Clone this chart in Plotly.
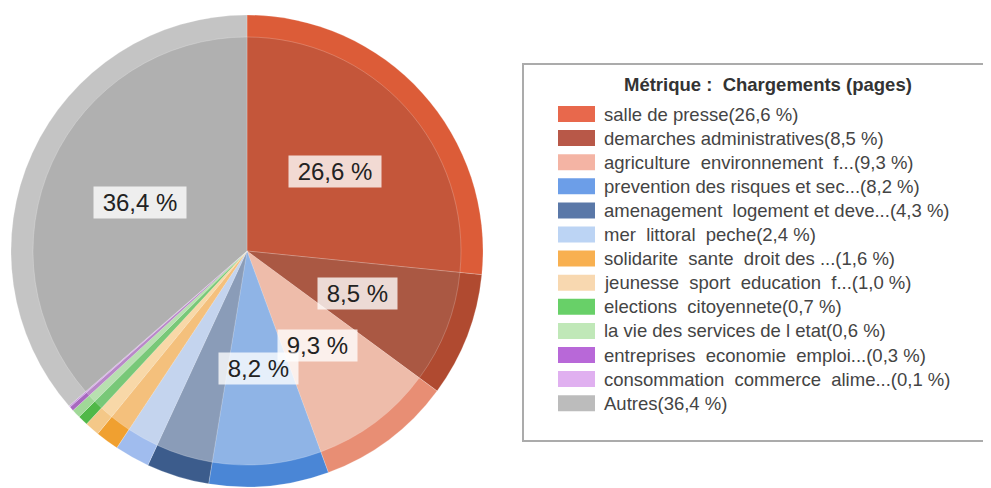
"""Pie chart of page loads by section, with a hand-drawn legend panel."""

import math

import plotly.graph_objects as go

# --- data -------------------------------------------------------------------
categories = [
    "salle de presse",
    "demarches administratives",
    "agriculture  environnement  f...",
    "prevention des risques et sec...",
    "amenagement  logement et deve...",
    "mer  littoral  peche",
    "solidarite  sante  droit des ...",
    "jeunesse  sport  education  f...",
    "elections  citoyennete",
    "la vie des services de l etat",
    "entreprises  economie  emploi...",
    "consommation  commerce  alime...",
    "Autres",
]
shares = [26.6, 8.5, 9.3, 8.2, 4.3, 2.4, 1.6, 1.0, 0.7, 0.6, 0.3, 0.1, 36.4]
legend_title = "Métrique :  Chargements (pages)"

# colours: outer rim, slice body, legend swatch
rim_colors = [
    "#dc5c38", "#b04a30", "#e88e74", "#4a86d6", "#3c5c8c", "#a0bcee",
    "#f0a030", "#f4c888", "#50b848", "#a0d898", "#a868c0", "#c898e0", "#c4c4c4",
]
body_colors = [
    "#c4563a", "#aa5843", "#eebcaa", "#8fb4e6", "#8a9cb8", "#c4d4ee",
    "#f4c07c", "#f8d8a8", "#78c878", "#b8e0b0", "#b888c8", "#d8b0e8", "#b0b0b0",
]
swatch_colors = [
    "#e8684c", "#b85848", "#f4b4a4", "#6c9ee8", "#5a78a8", "#bcd4f4",
    "#f8b050", "#f8d8b0", "#68d068", "#c0e8b8", "#b868d8", "#e0b0f0", "#bcbcbc",
]

# the page body has an 8px margin, so work in window pixels and shift
OFF = 8
W, H = 991 - OFF, 488 - OFF
FONT = "Liberation Sans, Arial, sans-serif"


def fmt(v):
    return f"{v:.1f}".replace(".", ",") + " %"


def px(x):
    return (x - OFF) / W


def py(y):
    return 1 - (y - OFF) / H


# pie geometry (window pixels)
cx, cy = 247, 251
r_out, r_in = 236, 214

fig = go.Figure()

for radius, colors in [(r_out, rim_colors), (r_in, body_colors)]:
    fig.add_trace(
        go.Pie(
            labels=categories,
            values=shares,
            sort=False,
            direction="clockwise",
            rotation=0,
            marker=dict(colors=colors, line=dict(color="rgba(255,255,255,0.35)", width=0.6)),
            textinfo="none",
            hoverinfo="label+percent",
            showlegend=False,
            domain=dict(
                x=[px(cx - radius), px(cx + radius)],
                y=[py(cy + radius), py(cy - radius)],
            ),
        )
    )

# percentage labels on the big slices, halfway out along each slice's mid angle
annotations = []
start = 0.0
total = sum(shares)
for v in shares:
    mid = (start + v / 2) / total * 2 * math.pi
    start += v
    if v < 5:
        continue
    lx = cx + 0.5 * r_out * math.sin(mid)
    ly = cy - 0.5 * r_out * math.cos(mid)
    annotations.append(
        dict(
            x=px(lx), y=py(ly), xref="paper", yref="paper",
            text="\u00a0" + fmt(v) + "\u00a0",
            showarrow=False,
            font=dict(family=FONT, size=24, color="#222222"),
            bgcolor="rgba(255,255,255,0.78)",
            borderpad=2,
            xanchor="center", yanchor="middle",
        )
    )

# --- legend panel -----------------------------------------------------------
box_left, box_right, box_top, box_bottom = 523, 1000, 64, 441
row0, row_step = 114, 24.1
shapes = [
    dict(
        type="path", xref="paper", yref="paper",
        path=(
            f"M {px(box_right)},{py(box_top)} L {px(box_left)},{py(box_top)} "
            f"L {px(box_left)},{py(box_bottom)} L {px(box_right)},{py(box_bottom)}"
        ),
        line=dict(color="#ababab", width=2),
    )
]
annotations.append(
    dict(
        x=px(768), y=py(84), xref="paper", yref="paper",
        text="<b>" + legend_title + "</b>", showarrow=False,
        font=dict(family=FONT, size=18.5, color="#333333"),
        xanchor="center", yanchor="middle",
    )
)
for i, (cat, v, col) in enumerate(zip(categories, shares, swatch_colors)):
    yc = row0 + i * row_step
    shapes.append(
        dict(
            type="rect", xref="paper", yref="paper",
            x0=px(558), x1=px(595), y0=py(yc + 8), y1=py(yc - 8),
            line=dict(width=0), fillcolor=col,
        )
    )
    annotations.append(
        dict(
            x=px(602), y=py(yc), xref="paper", yref="paper",
            text=f"{cat}({fmt(v)})", showarrow=False,
            font=dict(family=FONT, size=18.5, color="#444444"),
            xanchor="left", yanchor="middle",
        )
    )

fig.update_layout(
    width=W,
    height=H,
    margin=dict(l=0, r=0, t=0, b=0),
    paper_bgcolor="white",
    plot_bgcolor="white",
    shapes=shapes,
    annotations=annotations,
    showlegend=False,
)

fig.write_html("out.html")
